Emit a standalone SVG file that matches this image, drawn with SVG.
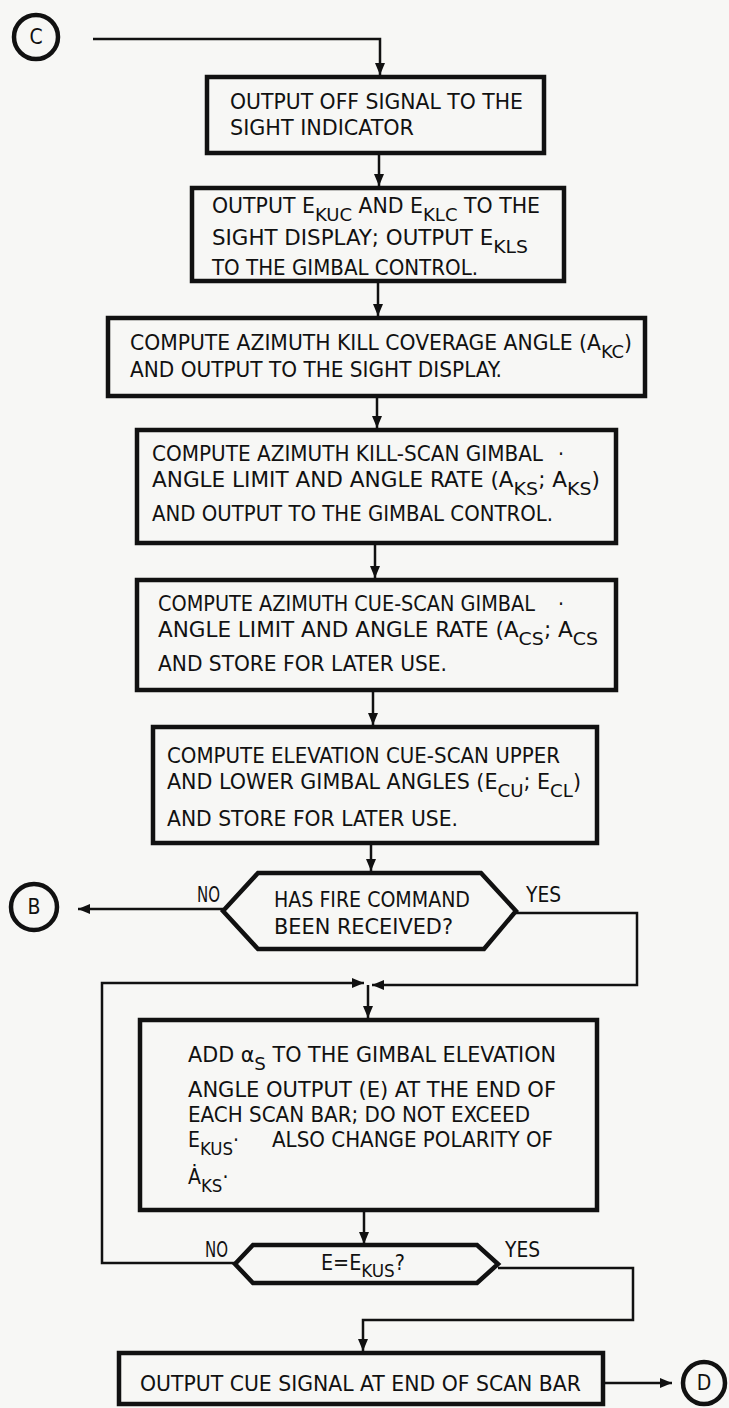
<svg xmlns="http://www.w3.org/2000/svg" width="729" height="1408" viewBox="0 0 729 1408">
<style>
.t{font-family:"DejaVu Sans Condensed","Liberation Sans Narrow","DejaVu Sans",sans-serif;font-stretch:condensed;font-size:21px;fill:#111}
.s{font-size:18.5px}
.box{fill:none;stroke:#111;stroke-width:4.5}
.ln{fill:none;stroke:#111;stroke-width:2.5}
.circ{fill:none;stroke:#111;stroke-width:4.5}
</style>
<defs>
<marker id="ah" markerUnits="userSpaceOnUse" markerWidth="12" markerHeight="10" refX="12" refY="5" orient="auto">
<path d="M0,0 L12,5 L0,10 z" fill="#111"/>
</marker>
</defs>
<rect x="0" y="0" width="729" height="1408" fill="#f7f7f5"/>

<g id="connectors">
<path class="ln" d="M93,39 H380 V75" marker-end="url(#ah)"/>
<path class="ln" d="M379,153 V186" marker-end="url(#ah)"/>
<path class="ln" d="M378,281 V316" marker-end="url(#ah)"/>
<path class="ln" d="M377,396 V428" marker-end="url(#ah)"/>
<path class="ln" d="M375,543 V578" marker-end="url(#ah)"/>
<path class="ln" d="M373,690 V725" marker-end="url(#ah)"/>
<path class="ln" d="M371,843 V871" marker-end="url(#ah)"/>
<path class="ln" d="M223,909 H78" marker-end="url(#ah)"/>
<path class="ln" d="M516,913 H637 V985 H372" marker-end="url(#ah)"/>
<path class="ln" d="M235,1263 H102 V983 H364" marker-end="url(#ah)"/>
<path class="ln" d="M368,985 V1018" marker-end="url(#ah)"/>
<path class="ln" d="M364,1210 V1244" marker-end="url(#ah)"/>
<path class="ln" d="M498,1268 H633 V1320 H363 V1351" marker-end="url(#ah)"/>
<path class="ln" d="M603,1383 H672" marker-end="url(#ah)"/>
</g>

<g id="nodeC">
<circle class="circ" cx="36" cy="37" r="22"/>
<text class="t" x="36" y="44" text-anchor="middle" font-size="20">C</text>
</g>

<g id="box1">
<rect class="box" x="207" y="77" width="337" height="76"/>
<text class="t" x="230" y="109" textLength="293" lengthAdjust="spacingAndGlyphs">OUTPUT OFF SIGNAL TO THE</text>
<text class="t" x="230" y="135" textLength="184" lengthAdjust="spacingAndGlyphs">SIGHT INDICATOR</text>
</g>

<g id="box2">
<rect class="box" x="192" y="188" width="372" height="93"/>
<text class="t" x="212" y="213" textLength="328" lengthAdjust="spacingAndGlyphs">OUTPUT E<tspan class="s" dy="8">KUC</tspan><tspan dy="-8"> AND E</tspan><tspan class="s" dy="8">KLC</tspan><tspan dy="-8"> TO THE</tspan></text>
<text class="t" x="212" y="245" textLength="316" lengthAdjust="spacingAndGlyphs">SIGHT DISPLAY; OUTPUT E<tspan class="s" dy="8">KLS</tspan></text>
<text class="t" x="212" y="275" textLength="266" lengthAdjust="spacingAndGlyphs">TO THE GIMBAL CONTROL.</text>
</g>

<g id="box3">
<rect class="box" x="108" y="318" width="537" height="78"/>
<text class="t" x="130" y="350" textLength="502" lengthAdjust="spacingAndGlyphs">COMPUTE AZIMUTH KILL COVERAGE ANGLE (A<tspan class="s" dy="8">KC</tspan><tspan dy="-8">)</tspan></text>
<text class="t" x="130" y="377" textLength="372" lengthAdjust="spacingAndGlyphs">AND OUTPUT TO THE SIGHT DISPLAY.</text>
</g>

<g id="box4">
<rect class="box" x="137" y="430" width="479" height="113"/>
<text class="t" x="152" y="461" textLength="391" lengthAdjust="spacingAndGlyphs">COMPUTE AZIMUTH KILL-SCAN GIMBAL</text>
<text class="t" x="558" y="461">·</text>
<text class="t" x="152" y="487" textLength="448" lengthAdjust="spacingAndGlyphs">ANGLE LIMIT AND ANGLE RATE (A<tspan class="s" dy="8">KS</tspan><tspan dy="-8">; A</tspan><tspan class="s" dy="8">KS</tspan><tspan dy="-8">)</tspan></text>
<text class="t" x="152" y="521" textLength="401" lengthAdjust="spacingAndGlyphs">AND OUTPUT TO THE GIMBAL CONTROL.</text>
</g>

<g id="box5">
<rect class="box" x="137" y="580" width="479" height="110"/>
<text class="t" x="158" y="611" textLength="377" lengthAdjust="spacingAndGlyphs">COMPUTE AZIMUTH CUE-SCAN GIMBAL</text>
<text class="t" x="558" y="611">·</text>
<text class="t" x="158" y="637" textLength="440" lengthAdjust="spacingAndGlyphs">ANGLE LIMIT AND ANGLE RATE (A<tspan class="s" dy="8">CS</tspan><tspan dy="-8">; A</tspan><tspan class="s" dy="8">CS</tspan></text>
<text class="t" x="158" y="671" textLength="289" lengthAdjust="spacingAndGlyphs">AND STORE FOR LATER USE.</text>
</g>

<g id="box6">
<rect class="box" x="153" y="727" width="444" height="116"/>
<text class="t" x="167" y="763" textLength="393" lengthAdjust="spacingAndGlyphs">COMPUTE ELEVATION CUE-SCAN UPPER</text>
<text class="t" x="167" y="789" textLength="414" lengthAdjust="spacingAndGlyphs">AND LOWER GIMBAL ANGLES (E<tspan class="s" dy="8">CU</tspan><tspan dy="-8">; E</tspan><tspan class="s" dy="8">CL</tspan><tspan dy="-8">)</tspan></text>
<text class="t" x="167" y="826" textLength="291" lengthAdjust="spacingAndGlyphs">AND STORE FOR LATER USE.</text>
</g>

<g id="decision1">
<polygon class="box" points="223,911 258,873 481,873 516,911 484,949 258,949"/>
<text class="t" x="274" y="907" textLength="196" lengthAdjust="spacingAndGlyphs">HAS FIRE COMMAND</text>
<text class="t" x="274" y="934" textLength="179" lengthAdjust="spacingAndGlyphs">BEEN RECEIVED?</text>
<text class="t" x="197" y="902" textLength="23" lengthAdjust="spacingAndGlyphs">NO</text>
<text class="t" x="526" y="902" textLength="35" lengthAdjust="spacingAndGlyphs">YES</text>
</g>

<g id="nodeB">
<circle class="circ" cx="34" cy="907" r="23"/>
<text class="t" x="34" y="914" text-anchor="middle" font-size="20">B</text>
</g>

<g id="box7">
<rect class="box" x="140" y="1020" width="457" height="190"/>
<text class="t" x="188" y="1062" textLength="368" lengthAdjust="spacingAndGlyphs">ADD α<tspan class="s" dy="8">S</tspan><tspan dy="-8"> TO THE GIMBAL ELEVATION</tspan></text>
<text class="t" x="188" y="1097" textLength="368" lengthAdjust="spacingAndGlyphs">ANGLE OUTPUT (E) AT THE END OF</text>
<text class="t" x="188" y="1122" textLength="342" lengthAdjust="spacingAndGlyphs">EACH SCAN BAR; DO NOT EXCEED</text>
<text class="t" x="188" y="1147">E<tspan class="s" dy="8">KUS</tspan><tspan dy="-8">·</tspan></text>
<text class="t" x="272" y="1147" textLength="281" lengthAdjust="spacingAndGlyphs">ALSO CHANGE POLARITY OF</text>
<text class="t" x="188" y="1184">Ȧ<tspan class="s" dy="8">KS</tspan><tspan dy="-8">·</tspan></text>
</g>

<g id="decision2">
<polygon class="box" points="235,1264 253,1245 477,1245 498,1264 477,1283 253,1283"/>
<text class="t" x="321" y="1270" textLength="84" lengthAdjust="spacingAndGlyphs">E=E<tspan class="s" dy="7">KUS</tspan><tspan dy="-7">?</tspan></text>
<text class="t" x="205" y="1257" textLength="23" lengthAdjust="spacingAndGlyphs">NO</text>
<text class="t" x="505" y="1257" textLength="35" lengthAdjust="spacingAndGlyphs">YES</text>
</g>

<g id="box8">
<rect class="box" x="119" y="1353" width="484" height="51"/>
<text class="t" x="140" y="1391" textLength="441" lengthAdjust="spacingAndGlyphs">OUTPUT CUE SIGNAL AT END OF SCAN BAR</text>
</g>

<g id="nodeD">
<circle class="circ" cx="704" cy="1383" r="21"/>
<text class="t" x="704" y="1390" text-anchor="middle" font-size="20">D</text>
</g>
</svg>
